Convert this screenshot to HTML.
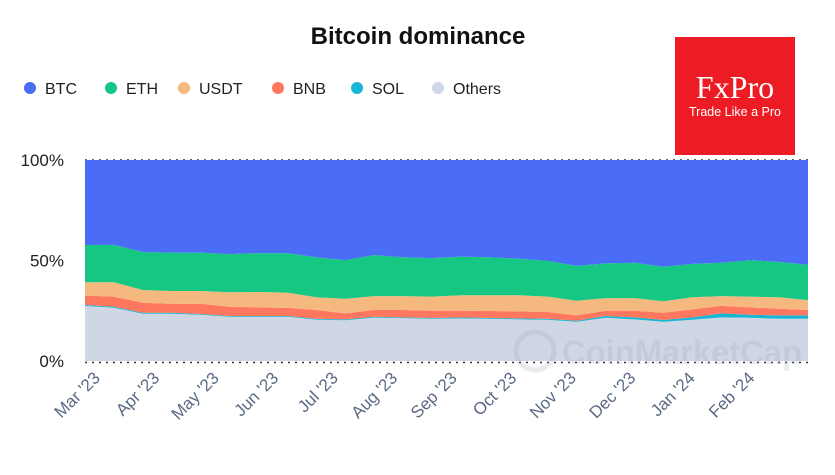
<!DOCTYPE html>
<html><head><meta charset="utf-8"><style>
body{margin:0;background:#fff;width:835px;height:470px;overflow:hidden;font-family:"Liberation Sans",sans-serif}
</style></head><body>
<svg width="835" height="470" xmlns="http://www.w3.org/2000/svg">
<text x="418" y="44" text-anchor="middle" font-size="24" font-weight="bold" fill="#111">Bitcoin dominance</text>
<g id="legend"></g>
<rect x="675" y="37" width="120" height="118" fill="#ED1C24"/>
<text x="735" y="98" text-anchor="middle" font-family="Liberation Serif,serif" font-size="32" fill="#fff">FxPro</text>
<text x="735" y="116" text-anchor="middle" font-size="12.5" fill="#fff">Trade Like a Pro</text>
<g id="grid"></g>
<g id="areas"></g>
<g id="yaxis"></g>
<g id="xaxis"></g>
<g opacity="0.22">
<circle cx="535" cy="351" r="19" fill="none" stroke="#a0a6b2" stroke-width="5"/>
<text x="562" y="364" font-size="34" font-weight="bold" fill="#a0a6b2" textLength="240" lengthAdjust="spacingAndGlyphs">CoinMarketCap</text>
</g>
</svg>
<script>
const others=[27.4,26.5,23.5,23.5,23.0,22.0,22.0,22.0,20.6,20.3,21.6,21.3,21.0,21.2,21.0,20.7,20.5,19.5,21.5,20.7,19.5,20.5,21.7,21.5,21.0,21.0];
const sol=[0.5,0.5,0.5,0.5,0.4,0.4,0.4,0.4,0.4,0.4,0.4,0.4,0.4,0.5,0.4,0.5,0.5,0.5,0.9,1.0,0.9,1.2,2.0,1.5,1.7,1.7];
const bnb=[4.6,5.0,5.0,4.4,5.0,4.6,4.3,4.0,4.4,3.0,3.4,3.7,3.6,3.3,3.5,3.5,3.4,2.7,2.6,3.3,3.6,4.0,3.7,3.7,3.3,2.7];
const usdt=[6.7,7.2,6.3,6.4,6.4,7.2,7.6,7.6,6.3,7.3,6.9,6.9,7.0,7.7,7.8,8.0,7.6,7.3,6.3,6.3,5.7,6.0,4.9,5.3,5.7,4.9];
const eth=[18.5,18.6,18.9,19.1,19.1,19.0,19.4,19.7,19.9,19.2,20.4,19.3,19.2,19.2,18.9,18.2,17.9,17.3,17.3,17.6,17.2,16.6,16.6,18.2,17.6,17.6];
const btc=[42.3,42.2,45.8,46.1,46.1,46.8,46.3,46.3,48.4,49.8,47.3,48.4,48.8,48.1,48.4,49.1,50.1,52.7,51.4,51.1,53.1,51.7,51.1,49.8,50.7,52.1];
const seriesNames=["Others","SOL","BNB","USDT","ETH","BTC"];
const monthLabels=["Mar '23","Apr '23","May '23","Jun '23","Jul '23","Aug '23","Sep '23","Oct '23","Nov '23","Dec '23","Jan '24","Feb '24"];
const yTicks=[0,50,100];
const NS="http://www.w3.org/2000/svg";
const X0=85,X1=808,Y0=361,Y1=160;
const n=others.length;
const xs=i=>X0+(X1-X0)*i/(n-1);
const ys=v=>Y0-(Y0-Y1)*v/100;
function mk(t,a,p){const e=document.createElementNS(NS,t);for(const k in a)e.setAttribute(k,a[k]);p.appendChild(e);return e;}
const data=[others,sol,bnb,usdt,eth,btc];
const colors=["#CFD6E4","#16B6D4","#FF775F","#F5B97F","#16C784","#4A6CF7"];
const areas=document.getElementById('areas');
let base=new Array(n).fill(0);
data.forEach((s,k)=>{
  const top=base.map((b,i)=>b+s[i]);
  let d="M"+xs(0)+","+ys(top[0]);
  for(let i=1;i<n;i++)d+="L"+xs(i)+","+ys(top[i]);
  for(let i=n-1;i>=0;i--)d+="L"+xs(i)+","+ys(base[i]);
  d+="Z";
  const p=mk('path',{d:d,fill:colors[k]},areas);
  
  
  base=top;
});
const grid=document.getElementById('grid'),ya=document.getElementById('yaxis');
yTicks.forEach(v=>{
  const yy=v===0?ys(v)+1.5:ys(v);
  const l=mk('line',{x1:X0,x2:X1+2,y1:yy,y2:yy,stroke:"#333","stroke-width":1.5,"stroke-dasharray":"2,5"},grid);
  
  
  const t=mk('text',{x:64,y:ys(v)+6,"text-anchor":"end","font-size":17,fill:"#222"},ya);
  t.textContent=v+"%";
  
  
});
const xa=document.getElementById('xaxis');
monthLabels.forEach((m,i)=>{
  const x=101+i*59.5,y=379;
  const t=mk('text',{x:x,y:y,"text-anchor":"end","font-size":17,fill:"#5a6a85",transform:`rotate(-45 ${x} ${y})`},xa);
  t.textContent=m;
  
  
});
const lg=document.getElementById('legend');
const legNames=["BTC","ETH","USDT","BNB","SOL","Others"];
const legCol=["#4A6CF7","#16C784","#F5B97F","#FF775F","#16B6D4","#CFD6E4"];
const legX=[30,111,184,278,357,438];
legNames.forEach((nm,i)=>{
  const g=mk('g',{},lg);
  
  
  mk('circle',{cx:legX[i],cy:88,r:6,fill:legCol[i]},g);
  const t=mk('text',{x:legX[i]+15,y:94,"font-size":16,fill:"#222"},g);
  t.textContent=nm;
});
</script>
</body></html>
